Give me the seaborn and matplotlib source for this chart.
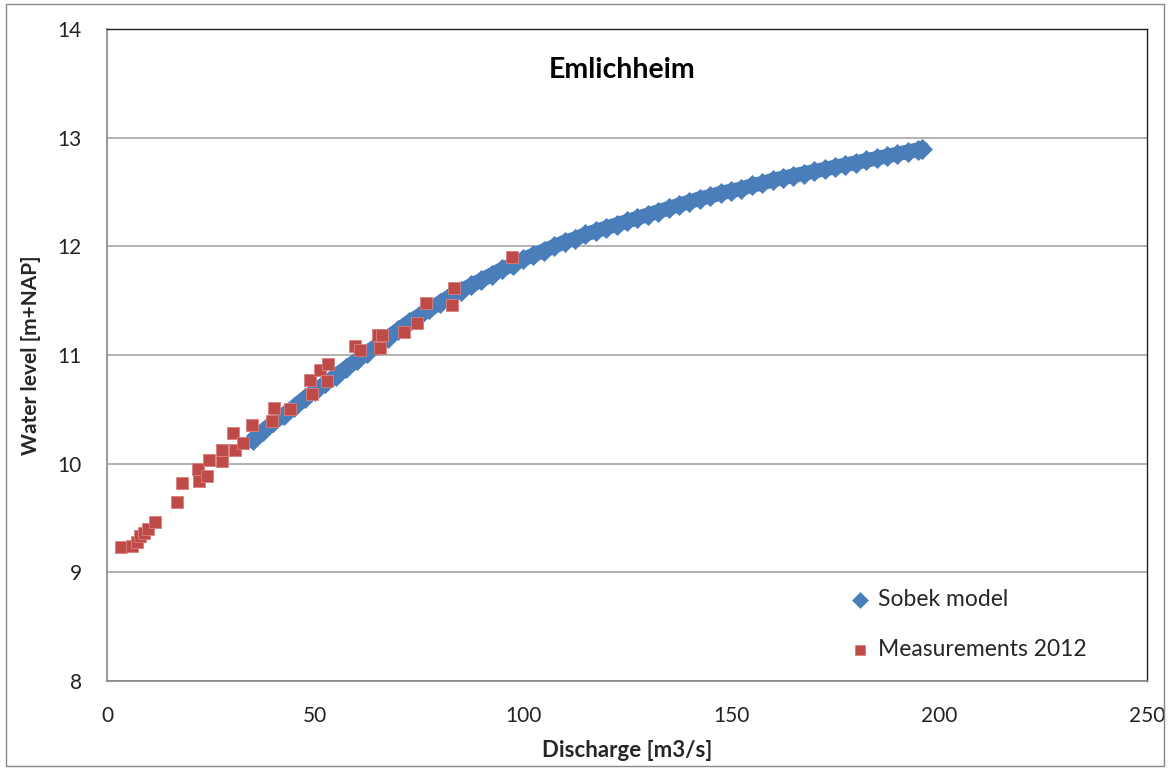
import matplotlib
matplotlib.use("Agg")
import matplotlib.pyplot as plt
import seaborn as sns
import pandas as pd
from matplotlib.patches import Rectangle

# ---- data ----
model_q = [35, 37.5, 40, 42.5, 45, 47.5, 50, 52.5, 55, 57.5, 60, 62.5, 65, 67.5, 70,
           72.5, 75, 77.5, 80, 82.5, 85, 87.5, 90, 92.5, 95, 97.5, 100, 102.5, 105,
           107.5, 110, 112.5, 115, 117.5, 120, 122.5, 125, 127.5, 130, 132.5, 135,
           137.5, 140, 142.5, 145, 147.5, 150, 152.5, 155, 157.5, 160, 162.5, 165,
           167.5, 170, 172.5, 175, 177.5, 180, 182.5, 185, 187.5, 190, 192.5, 195, 196]
model_h = [10.22, 10.30, 10.38, 10.45, 10.52, 10.60, 10.67, 10.74, 10.81, 10.88, 10.95,
           11.02, 11.09, 11.16, 11.23, 11.30, 11.36, 11.42, 11.48, 11.54, 11.59, 11.64,
           11.69, 11.74, 11.79, 11.83, 11.88, 11.92, 11.96, 12.00, 12.04, 12.07, 12.11,
           12.14, 12.17, 12.20, 12.23, 12.26, 12.29, 12.32, 12.35, 12.38, 12.41, 12.44,
           12.46, 12.49, 12.51, 12.53, 12.56, 12.58, 12.61, 12.63, 12.65, 12.67, 12.69,
           12.71, 12.73, 12.75, 12.77, 12.79, 12.81, 12.83, 12.85, 12.87, 12.89, 12.90]

meas_q = [3.3, 6.0, 7.2, 8.0, 9.0, 9.8, 11.5, 16.9, 18.0, 22.2, 21.8, 24.0, 24.4, 27.6,
          27.7, 30.4, 30.8, 32.8, 34.8, 39.6, 40.2, 44.0, 48.8, 49.2, 51.2, 53.2, 52.8,
          59.6, 60.7, 65.1, 66.0, 65.6, 71.3, 74.5, 76.8, 82.9, 83.5, 97.3]
meas_h = [9.23, 9.24, 9.28, 9.33, 9.36, 9.40, 9.46, 9.65, 9.82, 9.84, 9.95, 9.89, 10.03,
          10.02, 10.13, 10.28, 10.13, 10.19, 10.36, 10.39, 10.51, 10.50, 10.77, 10.64,
          10.86, 10.92, 10.76, 11.08, 11.05, 11.18, 11.18, 11.06, 11.21, 11.29, 11.48,
          11.46, 11.62, 11.90]

title = "Emlichheim"
xlabel = "Discharge [m3/s]"
ylabel = "Water level [m+NAP]"
x_ticks = [0, 50, 100, 150, 200, 250]
y_ticks = [8, 9, 10, 11, 12, 13, 14]

# ---- style ----
sns.set_style("white")
plt.rcParams["font.family"] = ["Lato", "DejaVu Sans"]

BLUE = "#4A7EBB"
RED = "#BE4B48"

fig = plt.figure(figsize=(11.71, 7.69), dpi=100)
ax = fig.add_axes([107 / 1171, 1 - 681 / 769, 1040 / 1171, 652 / 769])

df_model = pd.DataFrame({"Q": model_q, "H": model_h})
df_meas = pd.DataFrame({"Q": meas_q, "H": meas_h})

# dense band of model points
sns.lineplot(data=df_model, x="Q", y="H", color=BLUE, linewidth=10.5, ax=ax,
             legend=False, zorder=2, sort=False)
sns.scatterplot(data=df_model, x="Q", y="H", marker="D", s=115, color=BLUE,
                linewidth=0, ax=ax, label="Sobek model", zorder=3)
sns.scatterplot(data=df_meas, x="Q", y="H", marker="s", s=82, color=RED,
                linewidth=0.6, edgecolor="#D9807E", ax=ax, label="Measurements 2012",
                zorder=4)

ax.set_xlim(0, 250)
ax.set_ylim(8, 14)
ax.set_xticks(x_ticks)
ax.set_yticks(y_ticks)
ax.grid(axis="y", color="#A6A6A6", linewidth=1.2)
ax.set_axisbelow(True)

for side in ["left", "bottom"]:
    ax.spines[side].set_color("#868686")
    ax.spines[side].set_linewidth(1.2)
for side in ["top", "right"]:
    ax.spines[side].set_color("#222222")
    ax.spines[side].set_linewidth(1.0)

ax.tick_params(axis="both", which="major", direction="out", length=6, width=1.0,
               color="#868686", labelsize=15, labelcolor="#222222")
ax.tick_params(axis="x", pad=12)
ax.tick_params(axis="y", pad=12)

ax.set_xlabel(xlabel, fontsize=16, fontweight="bold", labelpad=10)
ax.set_ylabel(ylabel, fontsize=15, fontweight="bold", labelpad=12)

ax.text(0.495, 0.937, title, transform=ax.transAxes, ha="center", va="center",
        fontsize=20.5, fontweight="bold", color="black")

leg = ax.legend(loc="lower right", bbox_to_anchor=(0.962, 0.0), frameon=False,
                fontsize=16.5, labelspacing=1.27, handletextpad=0.35, handlelength=0.9,
                markerscale=0.8)

fig.add_artist(Rectangle((6 / 1171, 3 / 769), 1158 / 1171, 762 / 769,
                         transform=fig.transFigure, fill=False,
                         edgecolor="#888888", linewidth=1.0))

fig.savefig("out.png", dpi=100)
